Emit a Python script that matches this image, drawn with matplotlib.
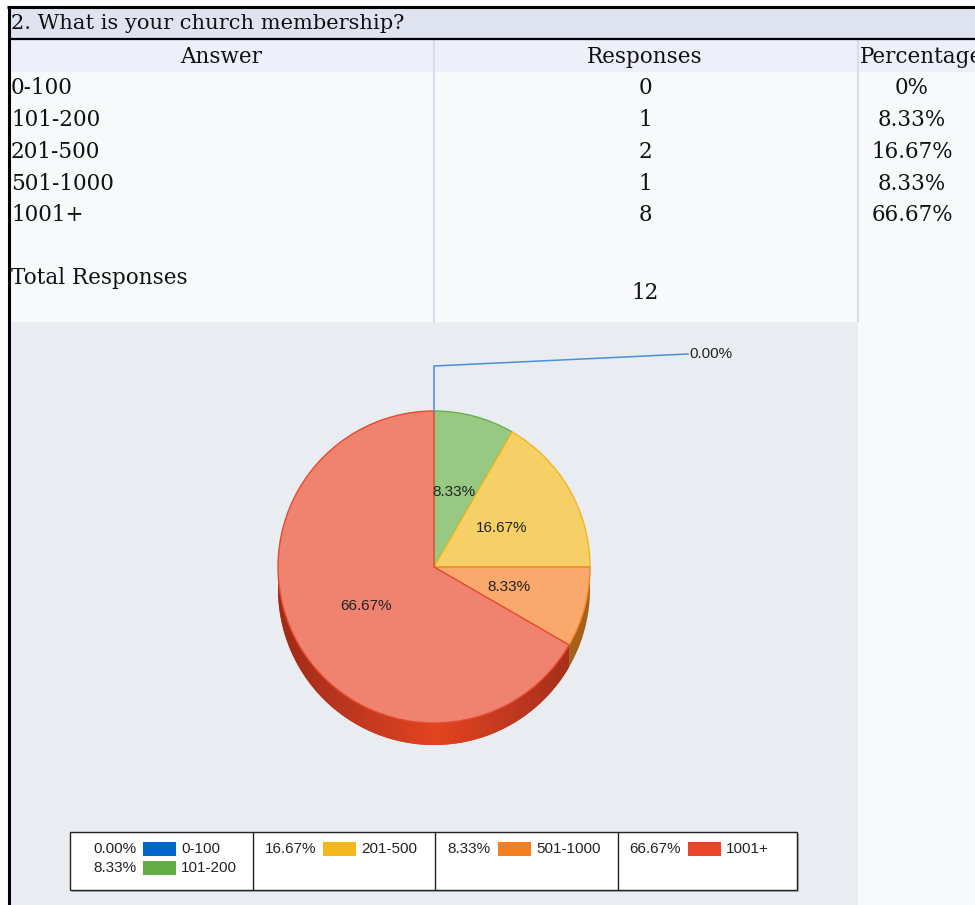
import numpy as np
import matplotlib
matplotlib.use("Agg")
import matplotlib.pyplot as plt
from matplotlib.patches import Rectangle, Polygon
from matplotlib.colors import LinearSegmentedColormap

# ---- survey data ----
question = "2. What is your church membership?"
answers = ["0-100", "101-200", "201-500", "501-1000", "1001+"]
responses = [0, 1, 2, 1, 8]
table_pct_labels = ["0%", "8.33%", "16.67%", "8.33%", "66.67%"]
total_responses = 12
pct = [r / total_responses * 100 for r in responses]

face_colors = ["#5b9bd5", "#97c983", "#f6cf66", "#f8a96b", "#f0836f"]
edge_colors = ["#4a8fd8", "#6ab04c", "#f0b71f", "#f5832a", "#e64a30"]
legend_colors = ["#0066cc", "#63ad46", "#f3b81b", "#f47f20", "#e8452a"]
side_colors = ["#2a5a9a", "#4f8a36", "#b98a18", "#a5601a", "#c63a22"]

W, H = 975, 905
fig = plt.figure(figsize=(W / 100, H / 100), dpi=100)
ax = fig.add_axes([0, 0, 1, 1])


def Y(y):
    return H - y


def box(x0, y0, x1, y1, **kw):
    ax.add_patch(Rectangle((x0, Y(y1)), x1 - x0, y1 - y0, **kw))


def hline(y, x0, x1, **kw):
    ax.plot([x0, x1], [Y(y), Y(y)], solid_capstyle="butt", **kw)


def vline(x, y0, y1, **kw):
    ax.plot([x, x], [Y(y0), Y(y1)], solid_capstyle="butt", **kw)


SERIF = "DejaVu Serif"
SANS = "Liberation Sans"
tsize = 15.5

# ---- table background ----
box(0, 0, W, H, color="white", lw=0)
box(10, 8, W, 39, color="#dee3ef", lw=0)
box(10, 40, W, 72, color="#edf0f8", lw=0)
box(10, 72, W, H, color="#f8f9fb", lw=0)
box(10, 322, 858, H, color="#e9edf1", lw=0)
vline(433.5, 40, 322, color="#d7dcee", lw=1.6)
vline(857.5, 40, 322, color="#d7dcee", lw=1.6)
hline(7, 7, W, color="black", lw=2.2)
hline(39.5, 10, W, color="black", lw=1.6)
vline(9, 6, H, color="black", lw=2.2)

# ---- table text ----
ax.text(11, Y(24), question, family=SERIF, fontsize=15.1, va="center", ha="left", color="#111")
ax.text(221, Y(57), "Answer", family=SERIF, fontsize=tsize, va="center", ha="center", color="#111")
ax.text(645, Y(57), "Responses", family=SERIF, fontsize=tsize, va="center", ha="center", color="#111")
ax.text(860, Y(57), "Percentage", family=SERIF, fontsize=tsize, va="center", ha="left", color="#111")

row_y = [88, 120, 152, 184, 215]
for yy, a, r, p in zip(row_y, answers, responses, table_pct_labels):
    ax.text(11, Y(yy), a, family=SERIF, fontsize=tsize, va="center", ha="left", color="#111")
    ax.text(645, Y(yy), str(r), family=SERIF, fontsize=tsize, va="center", ha="center", color="#111")
    ax.text(912, Y(yy), p, family=SERIF, fontsize=tsize, va="center", ha="center", color="#111")
ax.text(11, Y(278), "Total Responses", family=SERIF, fontsize=tsize, va="center", ha="left", color="#111")
ax.text(645, Y(293), str(total_responses), family=SERIF, fontsize=tsize, va="center", ha="center", color="#111")

# ---- 3D pie ----
cx, cy, r, depth = 434, Y(567), 156, 22
fracs = np.array(pct) / sum(pct)
cum = np.concatenate([[0], np.cumsum(fracs)])

dark_cmap = LinearSegmentedColormap.from_list("side", ["#9e2c18", "#c03820", "#e3441f", "#c03820", "#9e2c18"])
for i in range(len(fracs)):
    t1 = 90 - 360 * cum[i + 1]
    t2 = 90 - 360 * cum[i]
    a, b = max(t1, -180), min(t2, 0)
    if b <= a:
        continue
    t = np.radians(np.linspace(a, b, 120))
    top = np.column_stack([cx + r * np.cos(t), cy + r * np.sin(t)])
    bot = np.column_stack([cx + r * np.cos(t[::-1]), cy - depth + r * np.sin(t[::-1])])
    poly = Polygon(np.vstack([top, bot]), closed=True, facecolor=side_colors[i], edgecolor="none")
    ax.add_patch(poly)
    if i == len(fracs) - 1:
        grad = np.linspace(0, 1, 256)[None, :]
        im = ax.imshow(grad, cmap=dark_cmap, extent=(cx - r, cx + r, cy - r - depth, cy),
                       aspect="auto", zorder=poly.get_zorder() + 0.1)
        im.set_clip_path(poly)

wedges, texts, autotexts = ax.pie(
    pct, colors=face_colors, startangle=90, counterclock=False,
    center=(cx, cy), radius=r, pctdistance=0.5,
    autopct=lambda p: "" if p < 0.005 else f"{p:.2f}%",
    wedgeprops=dict(linewidth=1.0),
    textprops=dict(family=SANS, fontsize=11, color="#222"),
)
for w, ec in zip(wedges, edge_colors):
    w.set_edgecolor(ec)
    w.set_zorder(3)
for t in autotexts:
    t.set_zorder(5)

# leader line for the empty slice
ax.plot([cx, cx, 688], [cy + r, Y(366), Y(354)], color="#4a8fd8", lw=1.1, zorder=4)
ax.text(689, Y(354), f"{pct[0]:.2f}%", family=SANS, fontsize=11, color="#222",
        va="center", ha="left", zorder=5)

# ---- legend ----
box(72, 834, 799, 892, facecolor="#b8b8b8", edgecolor="none", zorder=5.5)
box(70, 832, 797, 890, facecolor="white", edgecolor="#222", lw=1.0, zorder=6)
for xd in [253, 435, 618]:
    vline(xd, 832, 890, color="#222", lw=1.0, zorder=7)
legend_cells = [[0, 1], [2], [3], [4]]
swatch_x = [143, 323, 498, 688]
legend_rows = [849, 868]
for cell, sx in zip(legend_cells, swatch_x):
    for k, idx in enumerate(cell):
        yy = legend_rows[k]
        ax.text(sx - 7, Y(yy), f"{pct[idx]:.2f}%", family=SANS, fontsize=11, color="#222",
                va="center", ha="right", zorder=8)
        box(sx, yy - 7, sx + 33, yy + 7, facecolor=legend_colors[idx], edgecolor="none", zorder=8)
        ax.text(sx + 38, Y(yy), answers[idx], family=SANS, fontsize=11, color="#222",
                va="center", ha="left", zorder=8)

ax.set_xlim(0, W)
ax.set_ylim(0, H)
ax.set_aspect("auto")
ax.axis("off")
fig.savefig("out.png", dpi=100)
